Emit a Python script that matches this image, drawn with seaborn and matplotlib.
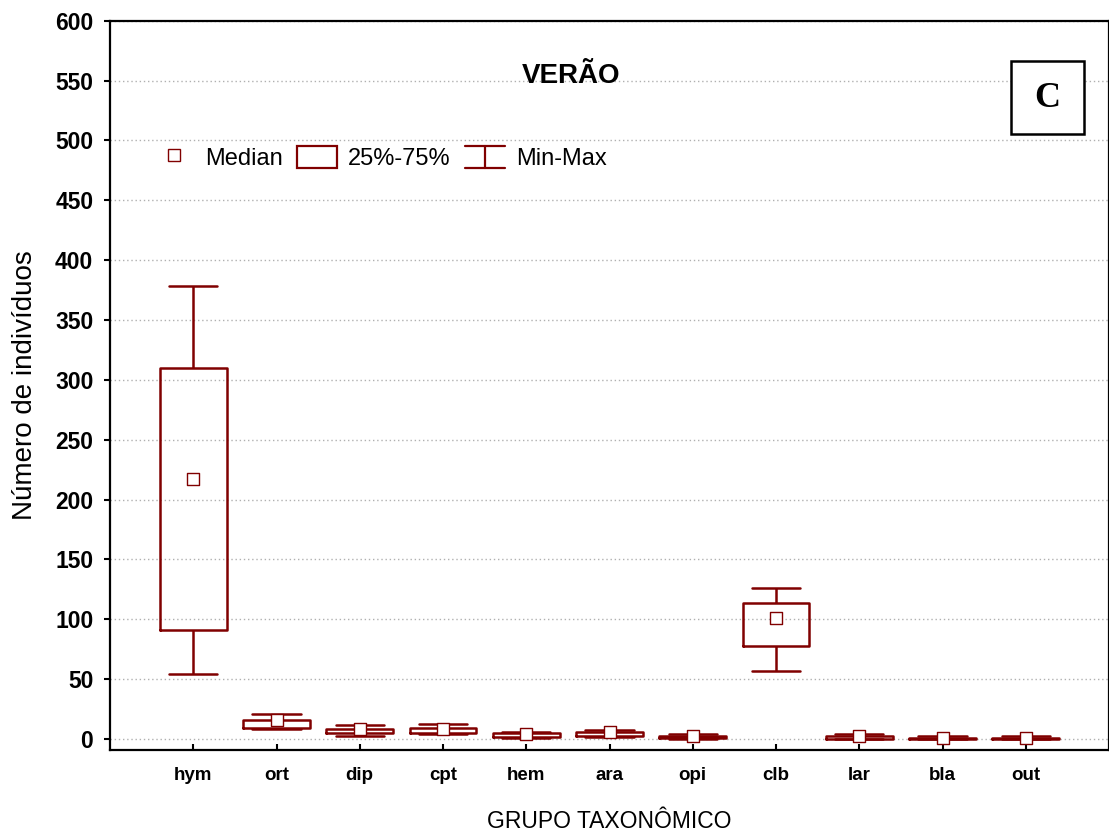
import numpy as np
import pandas as pd
import matplotlib
matplotlib.use("Agg")
import matplotlib.pyplot as plt
import seaborn as sns
from matplotlib.lines import Line2D
from matplotlib.patches import Rectangle
from matplotlib.legend_handler import HandlerBase

# ---------------- data ----------------
categories = ["hym", "ort", "dip", "cpt", "hem", "ara", "opi", "clb", "lar", "bla", "out"]
mins    = [54, 8.0, 2.8, 3.9, 0.8, 1.7, 0.2, 57, 0.0, 0.0, 0.0]
q1      = [91, 9.4, 5.0, 5.0, 1.9, 2.8, 0.8, 78, 0.3, 0.0, 0.0]
medians = [217, 15.5, 8.0, 8.0, 4.5, 6.0, 2.8, 101, 2.8, 1.0, 1.0]
q3      = [310, 15.5, 8.0, 9.4, 4.7, 6.0, 2.8, 114, 2.8, 1.0, 1.0]
maxs    = [378, 21.0, 11.4, 12.5, 5.6, 7.5, 3.9, 126, 3.9, 2.2, 2.2]
y_ticks = list(range(0, 601, 50))
title = "VERÃO"
panel = "C"
xlabel = "GRUPO TAXONÔMICO"
ylabel = "Número de indivíduos"
legend_labels = ["Median", "25%-75%", "Min-Max"]

sns.set_style("white")
plt.rcParams["font.family"] = ["Liberation Sans", "DejaVu Sans"]
plt.rcParams.update({"text.color": "black", "axes.labelcolor": "black",
                     "xtick.color": "black", "ytick.color": "black",
                     "axes.edgecolor": "black"})

RED = "#800000"

rows = []
for i, c in enumerate(categories):
    for v in (mins[i], q1[i], medians[i], q3[i], maxs[i]):
        rows.append({"grupo": c, "valor": v})
df = pd.DataFrame(rows)

fig = plt.figure(figsize=(11.09, 8.36), dpi=100)
ax = fig.add_axes([110 / 1109, 86 / 836, 999 / 1109, (750 - 20.7) / 836])

ax.yaxis.grid(True, linestyle=(0, (1, 2)), color="#b0b0b0", linewidth=1)
ax.xaxis.grid(False)
ax.set_axisbelow(True)

sns.boxplot(data=df, x="grupo", y="valor", order=categories, whis=(0, 100),
            width=0.8, fill=False, color=RED, linewidth=1.8, showfliers=False,
            medianprops={"linewidth": 0}, ax=ax)

# widen caps
for ln in ax.lines:
    x = np.asarray(ln.get_xdata(), float)
    y = np.asarray(ln.get_ydata(), float)
    if len(x) == 2 and y[0] == y[1] and x[0] != x[1] and abs(x[1] - x[0]) < 0.79:
        c = (x[0] + x[1]) / 2
        ln.set_xdata([c - 0.29, c + 0.29])

sns.stripplot(x=categories, y=medians, order=categories, jitter=False, marker="s",
              size=8, color="white", edgecolor=RED, linewidth=1, zorder=5, ax=ax)

ax.set_xlim(-1, 11)
ax.set_ylim(-9.2, 600)
ax.set_yticks(y_ticks)

ax.tick_params(axis="x", direction="in", length=4, width=1.5, pad=12, labelsize=13.5,
               colors="black", bottom=True)
ax.tick_params(axis="y", direction="out", length=4, width=1.5, pad=8, labelsize=16.5,
               colors="black", left=True)
for t in ax.get_xticklabels() + ax.get_yticklabels():
    t.set_fontweight("bold")

for s in ax.spines.values():
    s.set_visible(True)
    s.set_color("black")
    s.set_linewidth(1.6)

ax.set_xlabel(xlabel, fontsize=16.5, labelpad=19, color="black")
ax.set_ylabel(ylabel, fontsize=20, labelpad=12, color="black")

ax.text(0.462, 0.915, title, transform=ax.transAxes, ha="center", va="baseline",
        fontsize=20, fontweight="bold", color="black")

ax.add_patch(Rectangle((0.9018, 0.845), 0.0731, 0.1, transform=ax.transAxes,
                       facecolor="white", edgecolor="black", linewidth=1.8, zorder=6))
ax.text(0.938, 0.882, panel, transform=ax.transAxes, ha="center", va="baseline",
        fontsize=26, fontweight="bold", color="black",
        family=["Liberation Serif", "DejaVu Serif"], zorder=7)


class WhiskerHandler(HandlerBase):
    def create_artists(self, legend, orig_handle, xdescent, ydescent, width, height,
                       fontsize, trans):
        x0 = -xdescent
        x1 = x0 + width
        xm = (x0 + x1) / 2
        y0 = -ydescent
        y1 = y0 + height
        lines = [Line2D([x0, x1], [y1, y1]), Line2D([x0, x1], [y0, y0]),
                 Line2D([xm, xm], [y0, y1])]
        for l in lines:
            l.set_color(RED)
            l.set_linewidth(1.6)
            l.set_transform(trans)
        return lines


h_med = Line2D([], [], marker="s", linestyle="none", markersize=8,
               markerfacecolor="white", markeredgecolor=RED, markeredgewidth=1)
h_box = Rectangle((0, 0), 1, 1, facecolor="white", edgecolor=RED, linewidth=1.6)
h_wh = Line2D([], [], color=RED)

leg = ax.legend(handles=[h_med, h_box, h_wh], labels=legend_labels, loc="center left",
                bbox_to_anchor=(0.044, 0.812), ncol=3, frameon=False, fontsize=17,
                handlelength=1.7, handleheight=1.05, handletextpad=0.47, columnspacing=0.6,
                borderpad=0, borderaxespad=0, numpoints=1,
                handler_map={h_wh: WhiskerHandler()})
for t in leg.get_texts():
    t.set_color("black")

fig.savefig("out.png", dpi=100)
